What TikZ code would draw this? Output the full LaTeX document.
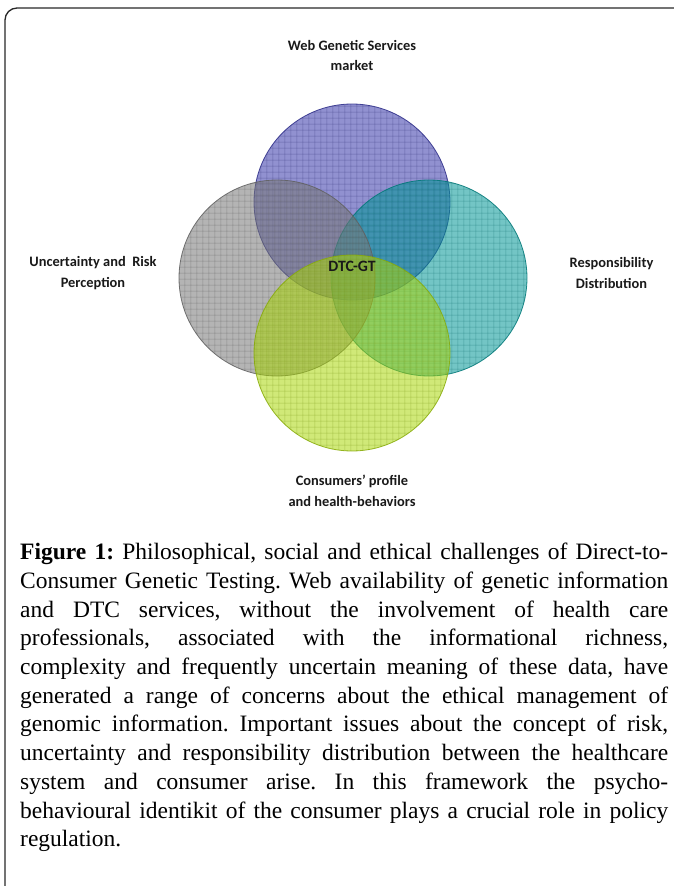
\documentclass[tikz,border=0pt]{standalone}
\usepackage{fontspec}
\setmainfont{Liberation Serif}
\newfontfamily\lblfont{Carlito}
\usetikzlibrary{patterns.meta}
\definecolor{cblue}{RGB}{55,55,170}
\definecolor{cteal}{RGB}{0,150,150}
\definecolor{cgray}{RGB}{120,120,120}
\definecolor{cgreen}{RGB}{170,215,10}
\definecolor{frame}{RGB}{40,40,40}
\begin{document}
\begin{tikzpicture}[x=1pt,y=-1pt,
  lbl/.style={font=\lblfont\bfseries\fontsize{14.4}{20.5}\selectfont, align=center, inner sep=0pt, text=black!90},
  venn/.style={circle, minimum size=196pt, inner sep=0pt, outer sep=0pt,
    draw=#1!80!black, line width=0.8pt, fill=#1, fill opacity=0.55, draw opacity=0.85,
    postaction={pattern={Hatch[distance=6.4pt,angle=0,line width=0.6pt]}, pattern color=#1!65!black, fill opacity=0.38}},
]
\useasboundingbox (0,0) rectangle (674,886);
\fill[white] (0,0) rectangle (674,886);
\draw[line width=1.3pt, frame, rounded corners=12pt] (5,886) -- (5,8) -- (674,8);

\node[venn=cblue]  (web)  at (352,202) {};
\node[venn=cteal]  (resp) at (429,278) {};
\node[venn=cgray]  (unc)  at (277,278) {};
\node[venn=cgreen] (cons) at (352,353) {};

\node[font=\lblfont\bfseries\fontsize{15.8}{18}\selectfont, inner sep=0pt, text=black!90] (dtc) at (352,266) {DTC-GT};

\node[lbl] (lweb)  at (352,55.5) {Web Genetic Services\\market};
\node[lbl] (lunc)  at (93,273)   {Uncertainty and\ \ Risk\\Perception};
\node[lbl] (lresp) at (611.5,273) {Responsibility\\Distribution};
\node[lbl] (lcons) at (352,491)  {Consumers’ profile\\and health-behaviors};

\node[anchor=north west, inner sep=0pt, text width=648pt, align=justify,
      font=\fontsize{23.5}{28.7}\selectfont\frenchspacing] (cap) at (20,543) {%
\textbf{Figure 1:} Philosophical, social and ethical challenges of Direct-to-\linebreak
Consumer Genetic Testing. Web availability of genetic information\linebreak
and DTC services, without the involvement of health care\linebreak
professionals, associated with the informational richness,\linebreak
complexity and frequently uncertain meaning of these data, have\linebreak
generated a range of concerns about the ethical management of\linebreak
genomic information. Important issues about the concept of risk,\linebreak
uncertainty and responsibility distribution between the healthcare\linebreak
system and consumer arise. In this framework the psycho-\linebreak
behavioural identikit of the consumer plays a crucial role in policy\linebreak
regulation.};
\end{tikzpicture}
\end{document}
